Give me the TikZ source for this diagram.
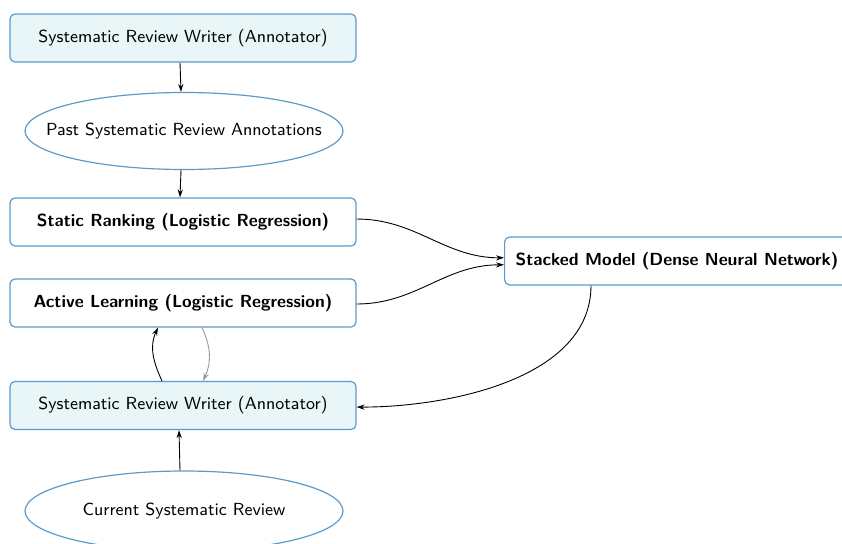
\documentclass[tikz,border=0pt]{standalone}
\usetikzlibrary{arrows.meta,shapes.geometric,calc}
\definecolor{bordblue}{HTML}{5A9BCB}
\definecolor{cyanfill}{HTML}{E8F6F8}
\begin{document}
\begin{tikzpicture}[x=0.5pt,y=-0.5pt,
  base/.style={draw=bordblue,line width=0.6pt,inner sep=0pt,font=\sffamily\fontsize{8.75}{10}\selectfont},
  boxn/.style={base,rounded corners=2.5pt,minimum width=173pt,minimum height=24pt,fill=white},
  hl/.style={fill=cyanfill},
  ell/.style={base,ellipse,minimum width=159pt,minimum height=38.5pt},
  etext/.style={font=\sffamily\fontsize{8.75}{10}\selectfont},
  bt/.style={font=\sffamily\bfseries\fontsize{8.75}{10}\selectfont},
  arr/.style={-{Stealth[length=4pt,width=2.6pt]},line width=0.45pt},
]
\useasboundingbox (0,0) rectangle (842,543);
\clip (0,0) rectangle (842,543);
\node[boxn,hl] (w1) at (183,38) {Systematic Review Writer (Annotator)};
\node[ell,label={[etext]center:Past Systematic Review Annotations}] (past) at (184,131) {};
\node[boxn,bt] (static) at (183,222) {Static Ranking (Logistic Regression)};
\node[boxn,bt] (active) at (183,303) {Active Learning (Logistic Regression)};
\node[boxn,bt,anchor=west,minimum width=0pt,inner xsep=5.5pt] (stacked) at (504,261) {Stacked Model (Dense Neural Network)\hspace*{10pt}};
\node[boxn,hl] (w2) at (183,405.5) {Systematic Review Writer (Annotator)};
\node[ell,minimum height=40pt,label={[etext]center:Current Systematic Review}] (cur) at (184,511) {};

\draw[arr] ([xshift=-1.5pt]w1.south) -- ([xshift=-1.5pt]past.north);
\draw[arr] ([xshift=-1.5pt]past.south) -- ([xshift=-1.5pt]static.north);
\draw[arr] ([yshift=1.5pt]static.east) to[out=0,in=180] ([yshift=1.6pt]stacked.west);
\draw[arr] ([yshift=-0.5pt]active.east) to[out=0,in=180] ([yshift=-1.9pt]stacked.west);
\draw[arr] ($(stacked.south west)+(87,0)$) to[out=-90,in=0,looseness=0.9] ([yshift=-0.8pt]w2.east);
\draw[arr] ($(w2.north)+(-21,0)$) to[out=115,in=-115] ($(active.south)+(-25,0)$);
\draw[arr,draw=gray!80,color=gray!80] ($(active.south)+(19,0)$) to[out=-65,in=65] ($(w2.north)+(20,0)$);
\draw[arr] ([xshift=-2pt]cur.north) -- ([xshift=-2pt]w2.south);
\end{tikzpicture}
\end{document}
